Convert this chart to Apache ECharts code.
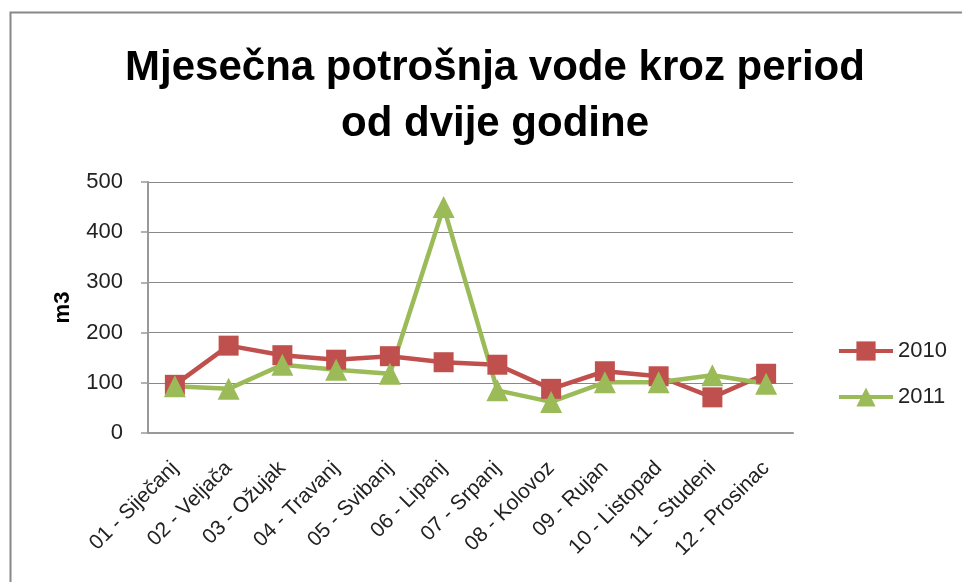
<!DOCTYPE html>
<html>
<head>
<meta charset="utf-8">
<script src="https://cdn.jsdelivr.net/npm/echarts@6/dist/echarts.min.js"></script>
<style>
html,body{margin:0;padding:0;background:#fff;}
#c{width:962px;height:582px;}
</style>
</head>
<body>
<div id="c"></div>
<script>
const titleText = 'Mjesečna potrošnja vode kroz period\nod dvije godine';
const yAxisName = 'm3';
const categories = ['01 - Siječanj','02 - Veljača','03 - Ožujak','04 - Travanj','05 - Svibanj','06 - Lipanj','07 - Srpanj','08 - Kolovoz','09 - Rujan','10 - Listopad','11 - Studeni','12 - Prosinac'];
const seriesNames = ['2010','2011'];
const values2010 = [96, 174, 155, 146, 153, 141, 136, 88, 123, 113, 71, 118];
const values2011 = [93, 88, 136, 126, 118, 450, 85, 62, 101, 101, 115, 98];
const yMin = 0, yMax = 500, yInterval = 100;

const FONT = 'Liberation Sans';
const chart = echarts.init(document.getElementById('c'), null, {renderer:'canvas'});
chart.setOption({
  backgroundColor: '#fff',
  animation: false,
  graphic: [{
    type: 'rect', left: 8, top: 10,
    shape: {width: 1000, height: 620},
    style: {fill: 'none', stroke: '#888', lineWidth: 2}
  }],
  title: {
    text: titleText, left: 490, top: 35, textAlign: 'center',
    textStyle: {fontFamily: FONT, fontSize: 42, fontWeight: 'bold', color: '#000', lineHeight: 56}
  },
  legend: {
    orient: 'vertical', left: 832, top: 335,
    itemWidth: 54, itemHeight: 24, itemGap: 24,
    textStyle: {fontFamily: FONT, fontSize: 22, color: '#222'},
    lineStyle: {width: 4},
    data: seriesNames
  },
  grid: {left: 148, right: 169, top: 182, bottom: 149},
  xAxis: {
    type: 'category', data: categories, boundaryGap: true,
    axisLine: {lineStyle: {color: '#999', width: 2}},
    axisTick: {show: false},
    axisLabel: {rotate: 45, fontFamily: FONT, fontSize: 21, color: '#222', margin: 32, interval: 0}
  },
  yAxis: {
    type: 'value', min: yMin, max: yMax, interval: yInterval,
    name: yAxisName, nameLocation: 'middle', nameGap: 74, nameRotate: 90,
    nameTextStyle: {fontFamily: FONT, fontSize: 22, fontWeight: 'bold', color: '#000'},
    axisLine: {show: true, lineStyle: {color: '#999', width: 2}},
    axisTick: {show: true, length: 7, lineStyle: {color: '#999', width: 1.5}},
    axisLabel: {fontFamily: FONT, fontSize: 22, color: '#222', margin: 25},
    splitLine: {lineStyle: {color: '#888', width: 1.2}}
  },
  series: [{
    name: seriesNames[0], type: 'line', data: values2010,
    symbol: 'rect', symbolSize: 20,
    lineStyle: {color: '#C0504D', width: 4.5},
    itemStyle: {color: '#C0504D'}
  },{
    name: seriesNames[1], type: 'line', data: values2011,
    symbol: 'triangle', symbolSize: [22, 22],
    lineStyle: {color: '#9BBB59', width: 4.5},
    itemStyle: {color: '#9BBB59'}
  }]
});
</script>
</body>
</html>
